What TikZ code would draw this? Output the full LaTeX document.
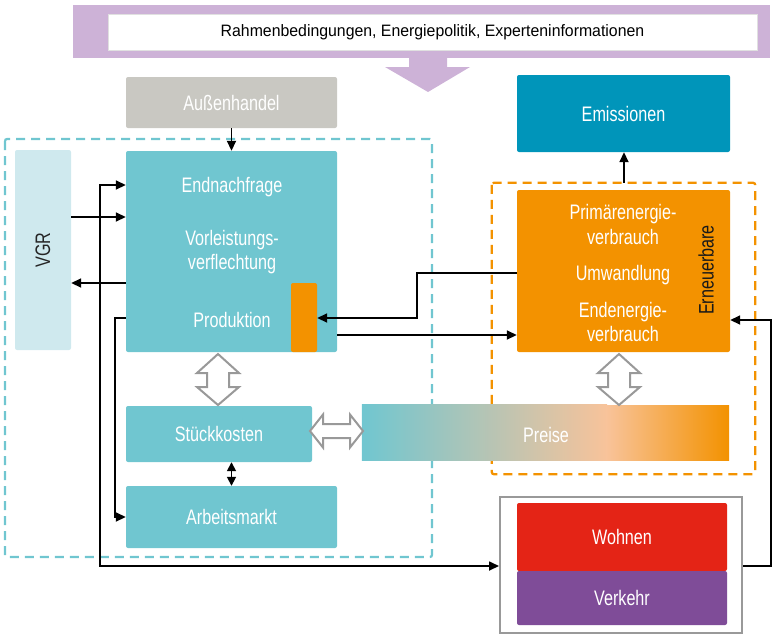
\documentclass[tikz,border=0pt]{standalone}
\usepackage{fontspec}
\setmainfont{Liberation Sans}
\newfontfamily\cond[FakeStretch=0.77]{Liberation Sans}
\newfontfamily\bann[FakeStretch=0.96]{Liberation Sans}
\usetikzlibrary{arrows.meta,calc}
\definecolor{cy}{HTML}{70C6D0}
\definecolor{lcy}{HTML}{CFE9EE}
\definecolor{agray}{HTML}{C9C8C2}
\definecolor{teal}{HTML}{0095BA}
\definecolor{org}{HTML}{F39200}
\definecolor{peach}{HTML}{F8C39A}
\definecolor{rd}{HTML}{E42416}
\definecolor{vio}{HTML}{7F4C98}
\definecolor{lila}{HTML}{CDB2D7}
\definecolor{hgray}{HTML}{999999}
\begin{document}
\begin{tikzpicture}[x=1pt,y=-1pt,
  box/.style={rectangle, rounded corners=2pt, inner sep=0pt, draw=none},
  lbl/.style={font=\cond\fontsize{21}{23}\selectfont, text=white, inner sep=0pt},
  conn/.style={line width=1.7pt, -{Triangle[length=10pt,width=9pt]}},
  hollow/.style={draw=hgray, line width=2pt, fill=white, line join=miter},
  dashbox/.style={line width=2.2pt, dash pattern=on 9pt off 6pt},
]
\useasboundingbox (0,0) rectangle (773,635);

% banner
\node[box, fill=lila, rounded corners=0pt, minimum width=697, minimum height=53] (banner) at (421.5,31.5) {};
\node[rectangle, fill=white, draw=black!12, minimum width=649, minimum height=36, inner sep=0pt,
  font=\bann\fontsize{16.5}{18}\selectfont] (bantext) at (432.5,32) {Rahmenbedingungen, Energiepolitik, Experteninformationen};
\fill[lila] (409,57) -- (447,57) -- (447,67) -- (470,67) -- (428,92) -- (385,67) -- (409,67) -- cycle;

% top boxes
\node[box, fill=agray, minimum width=211, minimum height=51] (aussen) at (231.5,102.5) {};
\node[lbl] at (aussen) {Außenhandel};
\node[box, fill=teal, minimum width=213, minimum height=77] (emis) at (623.5,113.5) {};
\node[lbl] at (emis) {Emissionen};

% dashed regions
\draw[dashbox, draw=cy, rounded corners=2pt] (5,139) rectangle (432,557);
\node[minimum width=263, minimum height=291, inner sep=0pt] (orgregion) at (623.5,328.5) {};
\draw[dashbox, draw=org, rounded corners=2pt] (orgregion.north west) rectangle (orgregion.south east);

% VGR
\node[box, fill=lcy, minimum width=56, minimum height=200] (vgr) at (43,250) {};
\node[lbl, text=black!85, rotate=90] at (vgr) {VGR};

% main block
\node[box, fill=cy, minimum width=211, minimum height=201] (main) at (231.5,251.5) {};
\node[lbl] at (232,187) {Endnachfrage};
\node[lbl] at (232,240) {Vorleistungs-};
\node[lbl] at (232,264) {verflechtung};
\node[lbl] at (232,320) {Produktion};
\node[box, fill=org, minimum width=26, minimum height=69] (prodorg) at (304,317.5) {};

% energy block
\node[box, fill=org, minimum width=213, minimum height=162] (energy) at (623.5,271) {};
\node[lbl] at (623,214) {Primärenergie-};
\node[lbl] at (623,237) {verbrauch};
\node[lbl] at (623,275) {Umwandlung};
\node[lbl] at (623,312) {Endenergie-};
\node[lbl] at (623,334) {verbrauch};
\node[lbl, text=black!90, rotate=90] at (706,270) {Erneuerbare};

% lower boxes
\node[box, fill=cy, minimum width=186, minimum height=56] (stueck) at (219,434) {};
\node[lbl] at (stueck) {Stückkosten};
\node[box, fill=cy, minimum width=211, minimum height=62] (arbeit) at (231.5,517) {};
\node[lbl] at (arbeit) {Arbeitsmarkt};

% Preise gradient bar
\node[minimum width=367, minimum height=55, inner sep=0pt] (preise) at (545.5,432.5) {};
\fill[left color=cy, right color=peach] (preise.north west) rectangle (607,460);
\fill[left color=peach, right color=org] (606.5,405) rectangle (preise.south east);
\node[lbl] at (546,435) {Preise};

% Wohnen / Verkehr
\node[rectangle, draw=hgray, line width=2pt, fill=white, minimum width=242, minimum height=136, inner sep=0pt] (graybox) at (621,565) {};
\node[box, fill=rd, minimum width=210, minimum height=68] (wohnen) at (622,537) {};
\node[lbl] at (wohnen) {Wohnen};
\node[box, fill=vio, minimum width=210, minimum height=54] (verkehr) at (622,598) {};
\node[lbl] at (verkehr) {Verkehr};

% hollow arrows
\draw[hollow] (218,354) -- (239,373) -- (229,373) -- (229,387) -- (239,387) -- (218,405)
  -- (197,387) -- (207,387) -- (207,373) -- (197,373) -- cycle;
\draw[hollow] (619,354) -- (640,373) -- (630,373) -- (630,387) -- (640,387) -- (619,405)
  -- (598,387) -- (608,387) -- (608,373) -- (598,373) -- cycle;
\draw[hollow] (310,431) -- (323,414.5) -- (323,424) -- (350,424) -- (350,414.5) -- (363,431)
  -- (350,447.5) -- (350,438) -- (323,438) -- (323,447.5) -- cycle;

% connectors
\draw[conn] (aussen.south) -- (main.north);
\draw[conn] (vgr.east |- 0,217) -- (main.west |- 0,217);
\draw[conn] (main.west |- 0,283) -- (vgr.east |- 0,283);
\coordinate (l1a) at (100,185);
\coordinate (l1b) at (100,566);
\draw[conn, {Triangle[length=10pt,width=9pt]}-{Triangle[length=10pt,width=9pt]}]
  (main.west |- l1a) -- (l1a) -- (l1b) -- (graybox.west |- l1b);
\coordinate (l2a) at (115,318);
\coordinate (l2b) at (115,517);
\draw[conn] (main.west |- l2a) -- (l2a) -- (l2b) -- (arbeit.west |- l2b);
\coordinate (l3a) at (417,273);
\coordinate (l3b) at (417,318);
\draw[conn] (energy.west |- l3a) -- (l3a) -- (l3b) -- (prodorg.east |- l3b);
\draw[conn] (main.east |- 0,335) -- (energy.west |- 0,335);
\coordinate (l4a) at (771,566);
\coordinate (l4b) at (771,320);
\draw[conn] (graybox.east |- l4a) -- (l4a) -- (l4b) -- (energy.east |- l4b);
\draw[conn] (orgregion.north -| 624,0) -- (emis.south -| 624,0);
\draw[conn, {Triangle[length=9pt,width=9pt]}-{Triangle[length=9pt,width=9pt]}]
  (stueck.south -| arbeit.north) -- (arbeit.north);
\end{tikzpicture}
\end{document}
